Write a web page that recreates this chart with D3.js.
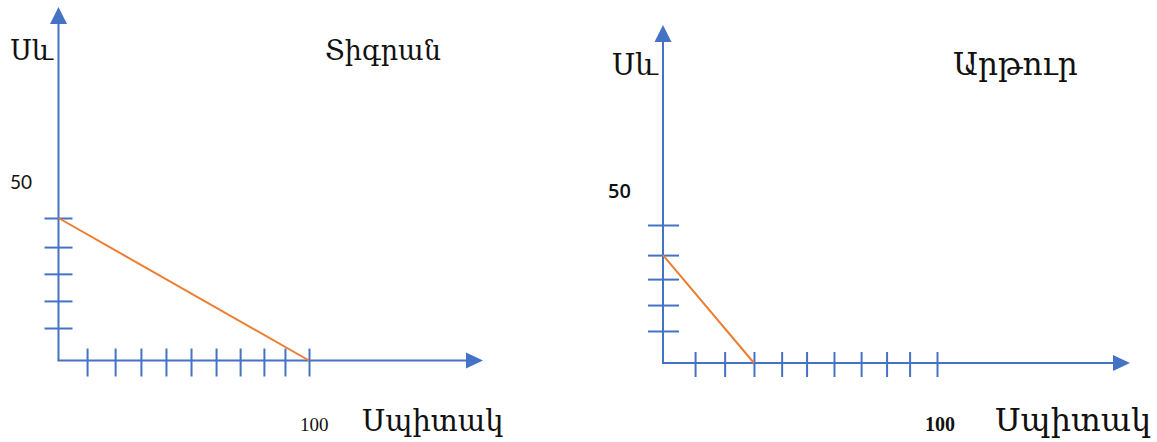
<!DOCTYPE html>
<html>
<head>
<meta charset="utf-8">
<script src="https://cdn.jsdelivr.net/npm/d3@7"></script>
<style>
  html, body { margin: 0; padding: 0; background: #fff; }
  svg { display: block; }
</style>
</head>
<body>
<svg id="chart" width="1157" height="442"></svg>
<script>
// ---- data ----
const panelNames = ["Տիգրան", "Արթուր"];
const yAxisTitle = "Սև";
const xAxisTitle = "Սպիտակ";
const yTickLabel = "50";
const xTickLabel = "100";
const yLabelValue = 50;
const xLabelValue = 100;

// tick positions (in chart units)
const tigranXTicks = [11.4, 22.6, 32.9, 42.9, 52.9, 62.9, 72.5, 82.0, 90.4, 100];
const tigranYTicks = [11.4, 20.9, 30.4, 39.8, 50];
const tigranLine = [[0, 50], [100, 0]];

const arturXTicks = [11.7, 22.5, 33.2, 43.3, 52.4, 62.4, 72.3, 81.6, 90.0, 100];
const arturYTicks = [11.6, 21.0, 30.4, 39.1, 50];
const arturLine = [[0, 39.1], [33.2, 0]];

// ---- layout ----
const BLUE = "#4472C4";
const ORANGE = "#ED7D31";
const SERIF = "'DejaVu Serif', 'Liberation Serif', serif";

const panels = [
  {
    name: panelNames[0], xTicks: tigranXTicks, yTicks: tigranYTicks, line: tigranLine,
    ox: 58.5, oy: 360.5, x100: 309, y50: 218, yTip: 7, xTip: 483,
    ytTick: [-14, 14], xtTick: [-12, 16],
    yTitle: { x: 53, y: 60, size: 27 }, name_: { x: 325, y: 60, size: 27 },
    lab50: { x: 10, y: 189, size: 19, weight: 400, font: "Lato, 'Liberation Sans', sans-serif" },
    lab100: { x: 300, y: 431, size: 19, weight: 400 },
    xTitle: { x: 362, y: 431, size: 29 }
  },
  {
    name: panelNames[1], xTicks: arturXTicks, yTicks: arturYTicks, line: arturLine,
    ox: 663, oy: 363, x100: 937, y50: 225, yTip: 25, xTip: 1130,
    ytTick: [-15, 16], xtTick: [-11, 14],
    yTitle: { x: 658, y: 75, size: 29 }, name_: { x: 953, y: 75, size: 31 },
    lab50: { x: 608, y: 198, size: 20, weight: 600, font: "'Open Sans', 'Liberation Sans', sans-serif" },
    lab100: { x: 925, y: 431, size: 20, weight: 700 },
    xTitle: { x: 995, y: 431, size: 32 }
  }
];

const svg = d3.select("#chart");

panels.forEach(p => {
  const x = d3.scaleLinear().domain([0, xLabelValue]).range([p.ox, p.x100]);
  const y = d3.scaleLinear().domain([0, yLabelValue]).range([p.oy, p.y50]);
  const g = svg.append("g");

  // axis lines
  g.append("line")
    .attr("x1", p.ox).attr("y1", p.oy).attr("x2", p.ox).attr("y2", p.yTip + 16)
    .attr("stroke", BLUE).attr("stroke-width", 2);
  g.append("line")
    .attr("x1", p.ox - 1).attr("y1", p.oy).attr("x2", p.xTip - 16).attr("y2", p.oy)
    .attr("stroke", BLUE).attr("stroke-width", 2);
  // arrowheads
  g.append("path")
    .attr("d", `M${p.ox},${p.yTip} L${p.ox - 8.5},${p.yTip + 17} L${p.ox + 8.5},${p.yTip + 17} Z`)
    .attr("fill", BLUE);
  g.append("path")
    .attr("d", `M${p.xTip},${p.oy} L${p.xTip - 17},${p.oy - 8} L${p.xTip - 17},${p.oy + 8} Z`)
    .attr("fill", BLUE);

  // x ticks via d3 axis
  const xAxis = d3.axisBottom(x).tickValues(p.xTicks).tickFormat("").tickSizeOuter(0);
  const gx = g.append("g").attr("transform", `translate(0,${p.oy})`).call(xAxis);
  gx.select(".domain").remove();
  gx.selectAll(".tick line")
    .attr("y1", p.xtTick[0]).attr("y2", p.xtTick[1])
    .attr("stroke", BLUE).attr("stroke-width", 2);

  // y ticks via d3 axis
  const yAxis = d3.axisLeft(y).tickValues(p.yTicks).tickFormat("").tickSizeOuter(0);
  const gy = g.append("g").attr("transform", `translate(${p.ox},0)`).call(yAxis);
  gy.select(".domain").remove();
  gy.selectAll(".tick line")
    .attr("x1", p.ytTick[0]).attr("x2", p.ytTick[1])
    .attr("stroke", BLUE).attr("stroke-width", 2);

  // orange line
  g.append("path")
    .datum(p.line)
    .attr("d", d3.line().x(d => x(d[0])).y(d => y(d[1])))
    .attr("fill", "none").attr("stroke", ORANGE).attr("stroke-width", 2);

  // texts
  g.append("text").attr("x", p.yTitle.x).attr("y", p.yTitle.y)
    .attr("text-anchor", "end").attr("font-family", SERIF).attr("font-size", p.yTitle.size)
    .attr("fill", "#111").text(yAxisTitle);
  g.append("text").attr("x", p.name_.x).attr("y", p.name_.y)
    .attr("font-family", SERIF).attr("font-size", p.name_.size)
    .attr("fill", "#111").text(p.name);
  g.append("text").attr("x", p.lab50.x).attr("y", p.lab50.y)
    .attr("font-family", p.lab50.font).attr("font-size", p.lab50.size)
    .attr("font-weight", p.lab50.weight).attr("fill", "#111").text(yTickLabel);
  g.append("text").attr("x", p.lab100.x).attr("y", p.lab100.y)
    .attr("font-family", "'Liberation Serif', serif").attr("font-size", p.lab100.size)
    .attr("font-weight", p.lab100.weight).attr("fill", "#111").text(xTickLabel);
  g.append("text").attr("x", p.xTitle.x).attr("y", p.xTitle.y)
    .attr("font-family", SERIF).attr("font-size", p.xTitle.size)
    .attr("fill", "#111").text(xAxisTitle);
});
</script>
</body>
</html>
